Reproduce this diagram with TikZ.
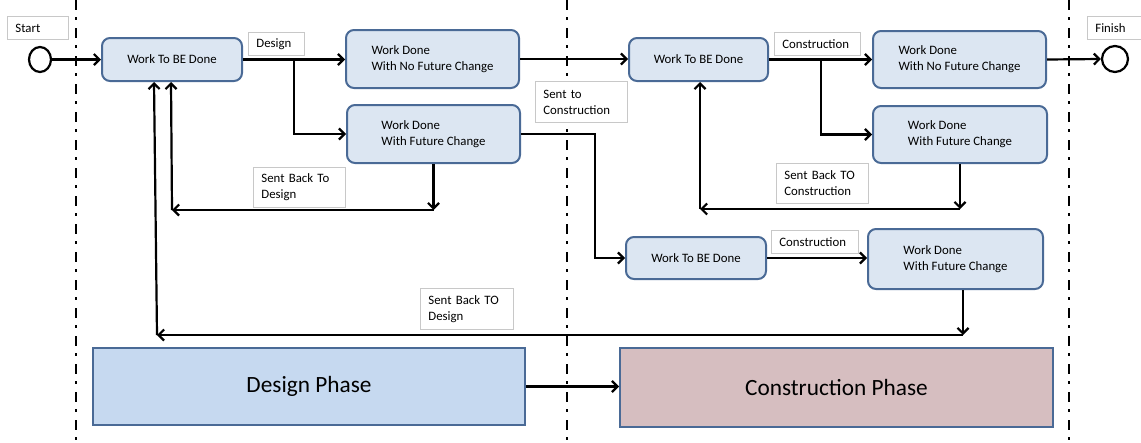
\documentclass[tikz,border=0pt]{standalone}
\usepackage{fontspec}
\setmainfont{Carlito}
\usetikzlibrary{arrows.meta,shapes.geometric,calc}

\definecolor{boxfill}{RGB}{220,230,242}
\definecolor{boxline}{RGB}{74,106,150}
\definecolor{designfill}{RGB}{198,217,240}
\definecolor{buildfill}{RGB}{214,190,192}
\definecolor{tagline}{RGB}{200,200,200}

\tikzset{
  every node/.style={font=\fontsize{12.8}{16}\selectfont},
  task/.style={draw=boxline, fill=boxfill, line width=2pt, rounded corners=8pt,
               align=left, inner sep=0pt},
  phase/.style={draw=boxline, line width=2pt, inner sep=0pt,
                font=\fontsize{23.3}{28}\selectfont},
  tag/.style={draw=tagline, fill=white, line width=0.8pt, anchor=north west,
              inner xsep=8pt, inner ysep=0pt, align=left},
  flow/.style={line width=2.2pt, -{Straight Barb[length=5.5pt,width=11pt]}},
  lane/.style={line width=2.8pt, dash pattern=on 10pt off 7pt on 3pt off 8pt},
  terminal/.style={ellipse, draw, line width=2.2pt, inner sep=0pt, fill=white},
}

\begin{document}
\begin{tikzpicture}[x=1pt,y=-1pt]
\useasboundingbox (0,0) rectangle (1141,442);

% phase separators
\draw[lane] (76,0) -- (76,442);
\draw[lane] (567,0) -- (567,442);
\draw[lane] (1069,0) -- (1069,442);

% start / finish
\node[terminal, minimum width=22pt, minimum height=25pt] (S) at (40,59.5) {};
\node[terminal, minimum width=26pt, minimum height=26pt] (F) at (1115,59) {};

% design stage
\node[task, minimum width=140pt, minimum height=43pt] (W1) at (172,59.5) {Work To BE Done};
\node[task, minimum width=173pt, minimum height=58pt] (N1) at (432.5,59) {Work Done\\With No Future Change};
\node[task, minimum width=173pt, minimum height=58pt] (F1) at (433.5,134) {Work Done\\With Future Change};

% construction stage
\node[task, minimum width=139pt, minimum height=43pt] (W2) at (698.5,59.5) {Work To BE Done};
\node[task, minimum width=173pt, minimum height=57pt] (N2) at (959.5,59.5) {Work Done\\With No Future Change};
\node[task, minimum width=174pt, minimum height=57pt] (F2) at (960,134.5) {Work Done\\With Future Change};
\node[task, minimum width=140pt, minimum height=42pt] (W3) at (696,258) {Work To BE Done};
\node[task, minimum width=175pt, minimum height=60pt] (F3) at (955.5,259) {Work Done\\With Future Change};

% phase bars
\node[phase, fill=designfill, minimum width=432pt, minimum height=77pt] (D) at (309,386.5) {Design Phase};
\node[phase, fill=buildfill, minimum width=433pt, minimum height=79pt] (C) at (836.5,387.5) {Construction Phase};

% junction points
\coordinate (b1) at (294,59.5);
\coordinate (c1) at (433.5,210);
\coordinate (d1) at (172,210);
\coordinate (k1) at (595,200);
\coordinate (b2) at (821,59.5);
\coordinate (c2) at (960,209);
\coordinate (d2) at (700,209);
\coordinate (c3) at (963,335);
\coordinate (d3) at (157,335);

% connectors
\draw[flow] (S) -- (W1);
\draw[flow] (W1.east) -- (W1.east -| N1.west);
\draw[flow] (b1) |- (F1.west);
\draw[flow] (F1.south) -- (c1);
\draw[flow] (c1) -- (d1);
\draw[flow] (d1) -- ($(W1.south -| d1)+(-1,0)$);
\draw[flow] (N1.east) -- (N1.east -| W2.west);
\draw[flow] (F1.east) -- (F1.east -| k1) -- (k1 |- W3.west) -- (W3.west);
\draw[flow] (W2.east) -- (W2.east -| N2.west);
\draw[flow] (b2) |- (F2.west);
\draw[flow] (F2.south) -- (c2);
\draw[flow] (c2) -- (d2);
\draw[flow] (d2) -- (W2.south -| d2);
\draw[flow] (N2.east) -- (F.west);
\draw[flow] (W3.east) -- (W3.east -| F3.west);
\draw[flow] (F3.south -| c3) -- (c3);
\draw[flow] (c3) -- (d3);
\draw[flow] (d3) -- ($(W1.south -| d3)+(-3,0)$);
\draw[flow] (D.east) -- (D.east -| C.west);

% labels
\node[tag, text width=45pt, minimum height=23pt] (tStart) at (7,16) {Start};
\node[tag, text width=46pt, minimum height=23pt] (tFinish) at (1087,16) {Finish};
\node[tag, text width=40pt, minimum height=23pt] (tDesign) at (248,32) {Design};
\node[tag, text width=76pt, minimum height=40pt] (tBackD) at (253,167) {Sent Back To\\Design};
\node[tag, text width=76pt, minimum height=41pt] (tToC) at (535,81) {Sent to\\Construction};
\node[tag, text width=70pt, minimum height=23pt] (tCons1) at (774,32) {Construction};
\node[tag, text width=76pt, minimum height=40pt] (tBackC) at (776,163) {Sent Back TO\\Construction};
\node[tag, text width=71pt, minimum height=23pt] (tCons2) at (771,230) {Construction};
\node[tag, text width=77pt, minimum height=41pt] (tBackD2) at (420,288) {Sent Back TO\\Design};
\end{tikzpicture}
\end{document}
